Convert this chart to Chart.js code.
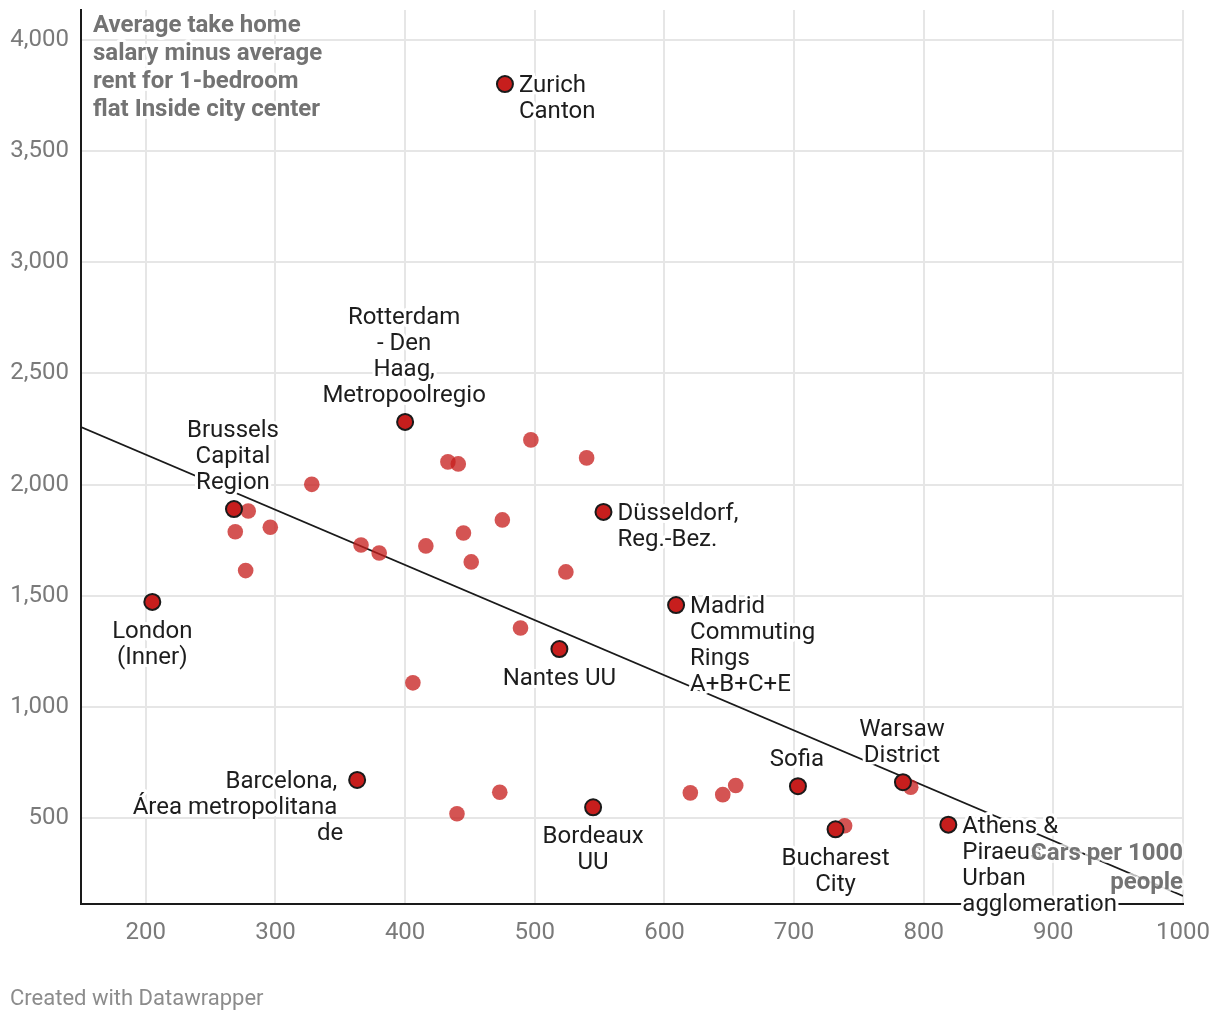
<!DOCTYPE html>
<html><head><meta charset="utf-8">
<script src="https://cdn.jsdelivr.net/npm/chart.js@4"></script>
<style>html,body{margin:0;padding:0;background:#fff}#wrap{width:1220px;height:1020px;position:relative}</style>
</head><body><div id="wrap"><canvas id="c" width="1220" height="1020"></canvas></div>
<script>
// ---- data ----
const hlNames = ["Zurich\nCanton", "Rotterdam\n- Den\nHaag,\nMetropoolregio", "Brussels\nCapital\nRegion", "London\n(Inner)", "Düsseldorf,\nReg.-Bez.", "Madrid\nCommuting\nRings\nA+B+C+E", "Nantes UU", "Barcelona, \nÁrea metropolitana \nde", "Bordeaux\nUU", "Sofia", "Bucharest\nCity", "Warsaw\nDistrict", "Athens &\nPiraeus\nUrban\nagglomeration"];
const hlCars = [477, 400, 268, 205, 553, 609, 519, 363, 545, 703, 732, 784, 819];
const hlSalary = [3802, 2282, 1890, 1472, 1877, 1458, 1260, 671, 548, 643, 449, 661, 470];
const otherCars = [328, 279, 269, 296, 277, 366, 380, 416, 433, 441, 497, 540, 445, 475, 451, 524, 489, 406, 440, 473, 620, 645, 655, 739, 790];
const otherSalary = [2001, 1881, 1788, 1808, 1613, 1728, 1692, 1724, 2102, 2093, 2201, 2120, 1782, 1841, 1652, 1607, 1355, 1108, 519, 616, 613, 605, 646, 465, 638];
const trendCars = [150, 1000];
const trendSalary = [2259, 149];
const xTicks = [200, 300, 400, 500, 600, 700, 800, 900, 1000];
const yTicks = [500, 1000, 1500, 2000, 2500, 3000, 3500, 4000];
const yTitle = ["Average take home", "salary minus average", "rent for 1-bedroom", "flat Inside city center"];
const xTitle = ["Cars per 1000", "people"];
const footer = "Created with Datawrapper";

// ---- label placement (style) ----
const hlSide = ["right","above","above","below","right","right","below","left","below","above","below","above","right"];

const FONT = "Roboto, 'Noto Sans', sans-serif";
const LH = 26;
const TY = 2; // text vertical nudge

function haloText(ctx, txt, x, y, halo) {
  ctx.lineJoin = 'round';
  ctx.strokeStyle = halo;
  ctx.lineWidth = 6;
  ctx.strokeText(txt, x, y);
  ctx.fillText(txt, x, y);
}

const labelPlugin = {
  id: 'labels',
  afterDatasetsDraw(chart) {
    const ctx = chart.ctx;
    const xs = chart.scales.x, ys = chart.scales.y;
    ctx.save();
    ctx.font = "24px " + FONT;
    ctx.fillStyle = '#1d1d1d';
    ctx.textBaseline = 'middle';
    hlNames.forEach((name, i) => {
      const px = xs.getPixelForValue(hlCars[i]);
      const py = ys.getPixelForValue(hlSalary[i]) + TY;
      const lines = name.split("\n");
      const side = hlSide[i];
      lines.forEach((ln, j) => {
        let x, y;
        if (side === 'right') { ctx.textAlign = 'left'; x = px + 14; y = py + j * LH; }
        else if (side === 'left') { ctx.textAlign = 'right'; x = px - 14; y = py + j * LH; }
        else if (side === 'above') { ctx.textAlign = 'center'; x = px - 1; y = py - 28 - (lines.length - 1 - j) * LH; }
        else { ctx.textAlign = 'center'; x = px; y = py + 28 + j * LH; }
        haloText(ctx, ln, x, y, '#ffffff');
      });
    });
    // axis titles
    ctx.font = "bold 24px " + FONT;
    ctx.fillStyle = '#737373';
    ctx.textAlign = 'left';
    yTitle.forEach((ln, j) => haloText(ctx, ln, chart.chartArea.left + 12, 24 + TY + j * 28, 'rgba(255,255,255,0.85)'));
    ctx.textAlign = 'right';
    xTitle.forEach((ln, j) => haloText(ctx, ln, chart.chartArea.right, 852 + TY + j * 29, 'rgba(255,255,255,0.7)'));
    // footer
    ctx.font = "22px " + FONT;
    ctx.fillStyle = '#8c8c8c';
    ctx.textAlign = 'left';
    ctx.fillText(footer, 10, 997 + TY);
    ctx.restore();
  }
};

new Chart(document.getElementById('c'), {
  type: 'scatter',
  data: {
    datasets: [
      {
        data: hlCars.map((x, i) => ({ x, y: hlSalary[i] })),
        backgroundColor: '#c71e1d', borderColor: '#1a1a1a', borderWidth: 2,
        pointRadius: 8, pointHoverRadius: 8, order: 0
      },
      {
        data: otherCars.map((x, i) => ({ x, y: otherSalary[i] })),
        backgroundColor: 'rgba(199,30,29,0.76)', borderWidth: 0,
        pointRadius: 7.8, pointHoverRadius: 7.8, order: 1
      },
      {
        data: trendCars.map((x, i) => ({ x, y: trendSalary[i] })),
        showLine: true, borderColor: '#1a1a1a', borderWidth: 1.7,
        pointRadius: 0, pointHoverRadius: 0, order: 2
      }
    ]
  },
  options: {
    responsive: false, animation: false,
    layout: { padding: { top: 10, right: 37, left: 0, bottom: 0 } },
    plugins: { legend: { display: false }, tooltip: { enabled: false } },
    scales: {
      x: {
        type: 'linear', min: 150, max: 1000,
        afterFit: s => { s.height = 116; s.paddingLeft = 0; s.paddingRight = 0; },
        afterBuildTicks: s => { s.ticks = xTicks.map(v => ({ value: v })); },
        grid: { color: '#e6e6e6', lineWidth: 2, drawTicks: false },
        border: { color: '#1a1a1a', width: 2 },
        ticks: { color: '#7a7a7a', font: { family: FONT, size: 24 }, padding: 15, callback: v => String(v) }
      },
      y: {
        type: 'linear', min: 113, max: 4135,
        afterFit: s => { s.width = 81; s.paddingTop = 0; s.paddingBottom = 0; },
        afterBuildTicks: s => { s.ticks = yTicks.map(v => ({ value: v })); },
        grid: { color: '#e6e6e6', lineWidth: 2, drawTicks: false },
        border: { color: '#1a1a1a', width: 2 },
        ticks: { color: '#7a7a7a', font: { family: FONT, size: 24 }, padding: 12, callback: v => v.toLocaleString('en-US') }
      }
    }
  },
  plugins: [labelPlugin]
});
</script></body></html>
